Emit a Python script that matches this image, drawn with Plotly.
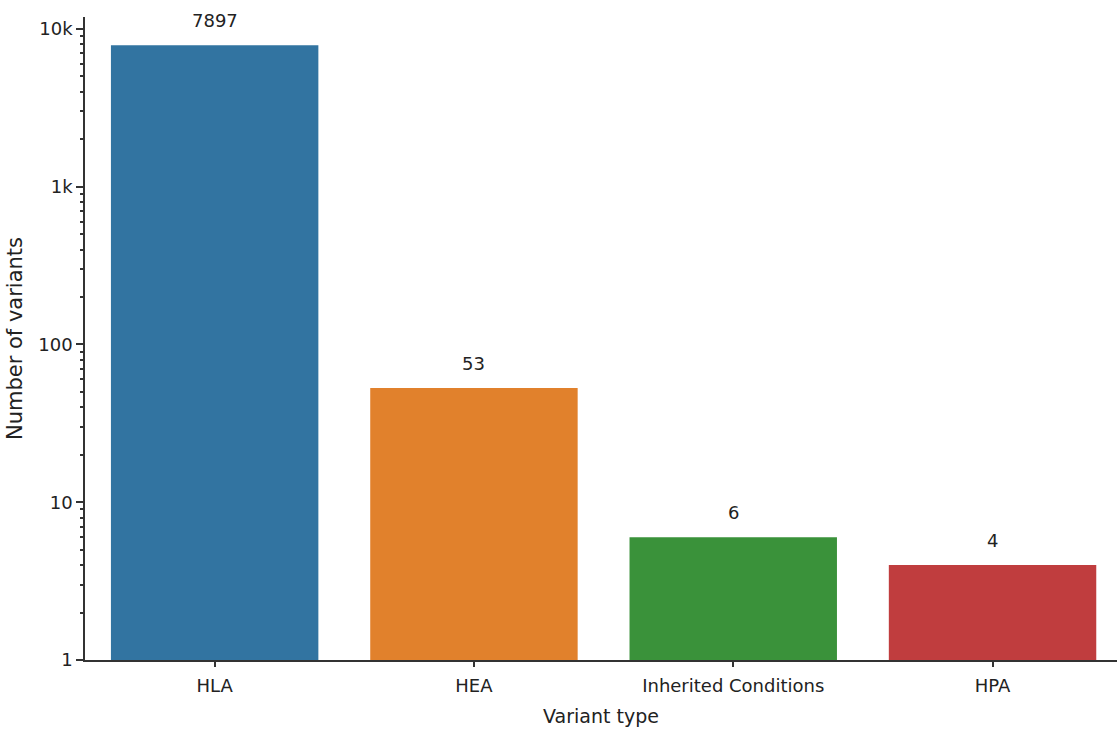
import math
import plotly.graph_objects as go

categories = ["HLA", "HEA", "Inherited Conditions", "HPA"]
counts = [7897, 53, 6, 4]
colors = ["#3274a1", "#e1812c", "#3a923a", "#c03d3e"]
ytick_vals = [1, 10, 100, 1000, 10000]
ytick_text = ["1", "10", "100", "1k", "10k"]
minor_vals = [m * 10 ** d for d in range(4) for m in range(2, 10)]

fig = go.Figure()
fig.add_trace(go.Bar(
    x=list(range(len(categories))), y=counts, width=0.8,
    marker=dict(color=colors, line=dict(width=0)),
))
# invisible trace on an overlaying axis used only for minor ticks
fig.add_trace(go.Scatter(x=[0], y=[1], xaxis="x", yaxis="y2", mode="markers",
                         marker=dict(opacity=0), hoverinfo="skip"))
for i, v in enumerate(counts):
    fig.add_annotation(x=i, y=math.log10(v), text=str(v), showarrow=False,
                       yanchor="bottom", yshift=12,
                       font=dict(size=18, color="#222"))

font = "DejaVu Sans"
yrange = [0, 4.076]
fig.update_layout(
    width=1117, height=734,
    margin=dict(l=85, r=0, t=17, b=74),
    plot_bgcolor="white", paper_bgcolor="white",
    font=dict(family=font, size=18, color="#222"),
    showlegend=False,
    xaxis=dict(
        range=[-0.5, 3.48], tickvals=list(range(len(categories))),
        ticktext=categories, showgrid=False, zeroline=False,
        showline=True, linecolor="#333", linewidth=1.5,
        ticks="outside", ticklen=5, tickcolor="#333", tickwidth=1.5,
        ticklabelstandoff=4,
        title=dict(text="Variant type", standoff=14, font=dict(size=19)),
    ),
    yaxis=dict(
        type="log", range=yrange, tickvals=ytick_vals, ticktext=ytick_text,
        showgrid=False, zeroline=False,
        showline=True, linecolor="#333", linewidth=1.5,
        ticks="outside", ticklen=7, tickcolor="#333", tickwidth=1.5,
        title=dict(text="Number of variants", standoff=10, font=dict(size=21)),
    ),
    yaxis2=dict(
        type="log", range=yrange, overlaying="y", side="left", anchor="x",
        tickmode="array", tickvals=minor_vals, showticklabels=False,
        showgrid=False, zeroline=False, showline=False,
        ticks="outside", ticklen=4, tickcolor="#333", tickwidth=1.5,
    ),
)
fig.write_html("out.html")
